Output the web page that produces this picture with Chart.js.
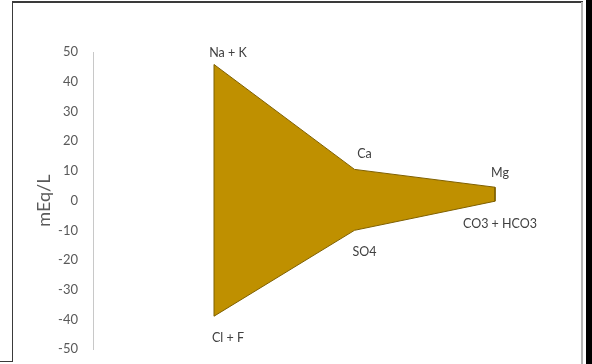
<!DOCTYPE html>
<html>
<head>
<meta charset="utf-8">
<script src="https://cdn.jsdelivr.net/npm/chart.js@4/dist/chart.umd.min.js"></script>
<style>
  html, body { margin: 0; padding: 0; background: #ffffff; }
  #wrap { position: relative; width: 592px; height: 364px; overflow: hidden; }
  canvas { position: absolute; left: 0; top: 0; }
  .ln { position: absolute; }
</style>
</head>
<body>
<div id="wrap">
  <canvas id="c" width="592" height="372"></canvas>
  <div class="ln" style="left:12px;top:1px;width:571px;height:2px;background:#3a3a3a;"></div>
  <div class="ln" style="left:12px;top:2px;width:1px;height:360px;background:#3a3a3a;"></div>
  <div class="ln" style="left:0px;top:361px;width:13px;height:1px;background:#3a3a3a;"></div>
  <div class="ln" style="left:581px;top:2px;width:2px;height:362px;background:#b4b4b4;"></div>
  <div class="ln" style="left:586px;top:0px;width:6px;height:364px;background:#000000;"></div>
</div>
<script>
// Stiff diagram data
const positions = [1, 2, 3];
const cationLabels = ['Na + K', 'Ca', 'Mg'];
const anionLabels = ['Cl + F', 'SO4', 'CO3 + HCO3'];
const cationValues = [45.8, 10.5, 4.5];
const anionValues = [-38.9, -10.0, -0.2];
const yTicks = [-50, -40, -30, -20, -10, 0, 10, 20, 30, 40, 50];

const upper = positions.map((x, i) => ({ x: x, y: cationValues[i] }));
const lower = positions.map((x, i) => ({ x: x, y: anionValues[i] }));
const outline = upper.concat(lower.slice().reverse(), [upper[0]]);

const FILL = '#BF9000';
const EDGE = '#7F6000';

const labelPlugin = {
  id: 'ionLabels',
  afterDatasetsDraw(chart) {
    const ctx = chart.ctx;
    const xs = chart.scales.x, ys = chart.scales.y;
    const dxs = [14, 10, 5];
    const dyTop = [-12, -15, -14];
    const dyBot = [22, 22, 23];
    ctx.save();
    ctx.font = '12.5px Lato, "Open Sans", sans-serif';
    ctx.fillStyle = '#404040';
    ctx.textAlign = 'center';
    ctx.textBaseline = 'middle';
    positions.forEach((p, i) => {
      const px = xs.getPixelForValue(p);
      ctx.fillText(cationLabels[i], px + dxs[i], ys.getPixelForValue(cationValues[i]) + dyTop[i]);
      ctx.fillText(anionLabels[i], px + dxs[i], ys.getPixelForValue(anionValues[i]) + dyBot[i]);
    });
    ctx.restore();
  }
};

new Chart(document.getElementById('c'), {
  type: 'scatter',
  data: {
    datasets: [
      { data: upper, showLine: true, borderWidth: 0, borderColor: 'rgba(0,0,0,0)', pointRadius: 0, fill: false, order: 2 },
      { data: lower, showLine: true, borderWidth: 0, borderColor: 'rgba(0,0,0,0)', pointRadius: 0, fill: '-1', backgroundColor: FILL, order: 2 },
      { data: outline, showLine: true, borderWidth: 1, borderColor: EDGE, pointRadius: 0, fill: false, order: 1 }
    ]
  },
  options: {
    responsive: false,
    animation: false,
    events: [],
    layout: { padding: { left: 0, right: 32, top: 52, bottom: 0 } },
    plugins: { legend: { display: false }, tooltip: { enabled: false } },
    scales: {
      x: {
        type: 'linear',
        display: false,
        min: 0.1388,
        max: 3.4626
      },
      y: {
        min: -50,
        max: 50,
        afterBuildTicks: (s) => { s.ticks = yTicks.map(v => ({ value: v })); },
        afterFit: (s) => { s.width = 93; },
        grid: { display: false, drawTicks: false },
        border: { display: true, color: '#c8c8c8', width: 1 },
        ticks: {
          padding: 15,
          color: '#595959',
          font: { family: 'Lato, "Open Sans", sans-serif', size: 13 }
        },
        title: {
          display: true,
          text: 'mEq/L',
          color: '#595959',
          font: { family: 'Lato, "Open Sans", sans-serif', size: 18 },
          padding: { top: 33, bottom: 0 }
        }
      }
    }
  },
  plugins: [labelPlugin]
});
</script>
</body>
</html>
